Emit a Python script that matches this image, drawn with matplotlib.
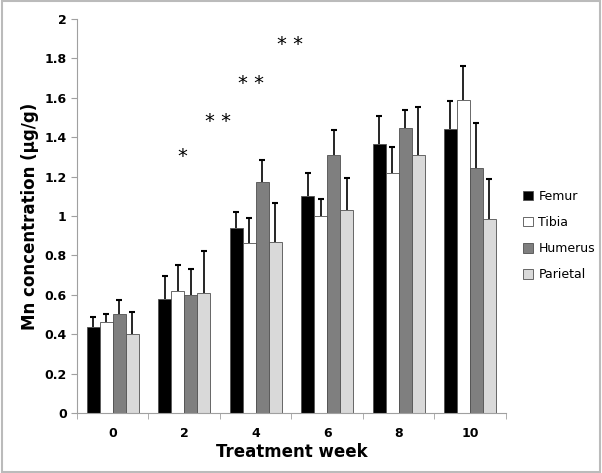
import matplotlib.pyplot as plt
import numpy as np

weeks = ['0', '2', '4', '6', '8', '10']
bones = ['Femur', 'Tibia', 'Humerus', 'Parietal']
colors = ['#000000', '#ffffff', '#7f7f7f', '#d9d9d9']

femur = [0.435, 0.58, 0.94, 1.10, 1.365, 1.44]
tibia = [0.46, 0.62, 0.865, 1.00, 1.22, 1.59]
humerus = [0.50, 0.60, 1.17, 1.31, 1.445, 1.245]
parietal = [0.40, 0.61, 0.87, 1.03, 1.31, 0.985]

femur_err = [0.05, 0.115, 0.08, 0.12, 0.14, 0.145]
tibia_err = [0.04, 0.13, 0.125, 0.085, 0.13, 0.17]
humerus_err = [0.075, 0.13, 0.115, 0.125, 0.095, 0.225]
parietal_err = [0.11, 0.21, 0.195, 0.165, 0.245, 0.20]

stars = ['*', '* *', '* *', '* *']
star_x = [0.98, 1.47, 1.94, 2.48]
star_y = [1.30, 1.48, 1.67, 1.87]

values = [femur, tibia, humerus, parietal]
errors = [femur_err, tibia_err, humerus_err, parietal_err]

fig = plt.figure(figsize=(6.02, 4.73), dpi=100)
ax = fig.add_axes([0.128, 0.127, 0.712, 0.833])
x = np.arange(len(weeks))
w = 0.182
for i in range(4):
    xs = x + (i - 1.5) * w
    ax.bar(xs, values[i], w, color=colors[i], edgecolor='#505050',
           linewidth=0.6, label=bones[i])
    tops = np.array(values[i]) + np.array(errors[i])
    # upper error bar only
    ax.vlines(xs, values[i], tops, color='black', linewidth=1.2)
    ax.plot(xs, tops, ls='none', marker='_', ms=5, mew=1.5, color='black')

for s, sx, sy in zip(stars, star_x, star_y):
    ax.text(sx, sy, s, ha='center', va='center', fontsize=14)

ax.set_ylim(0, 2)
ax.set_yticks(np.arange(0, 2.01, 0.2))
ax.set_yticklabels(['0', '0.2', '0.4', '0.6', '0.8', '1', '1.2', '1.4', '1.6', '1.8', '2'],
                   fontweight='bold', fontsize=9)
ax.set_xlim(-0.5, 5.5)
ax.set_xticks(x)
ax.set_xticklabels(weeks, fontweight='bold', fontsize=9)
ax.set_xticks(np.arange(-0.5, 6, 1), minor=True)
ax.tick_params(axis='x', which='major', length=0, pad=10)
ax.tick_params(axis='x', which='minor', length=4, color='#a0a0a0')
ax.tick_params(axis='y', length=4, color='#a0a0a0')
for sp in ['top', 'right']:
    ax.spines[sp].set_visible(False)
for sp in ['left', 'bottom']:
    ax.spines[sp].set_color('#a0a0a0')

ax.set_ylabel('Mn concentration (μg/g)', fontweight='bold', fontsize=12)
ax.set_xlabel('Treatment week', fontweight='bold', fontsize=12, labelpad=2)

ax.legend(loc='center left', bbox_to_anchor=(1.015, 0.45), frameon=False,
          fontsize=9, handlelength=0.8, handleheight=0.8, labelspacing=1.05,
          handletextpad=0.4)

fig.patches.append(plt.Rectangle((0.003, 0.003), 0.994, 0.994, transform=fig.transFigure,
                                 fill=False, edgecolor='#bbbbbb', linewidth=1.5))

fig.savefig('out.png', dpi=100)
